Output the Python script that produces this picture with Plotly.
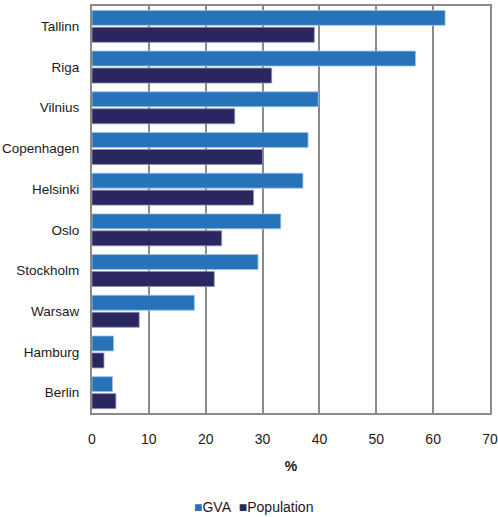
import plotly.graph_objects as go

cities = ["Tallinn", "Riga", "Vilnius", "Copenhagen", "Helsinki", "Oslo",
          "Stockholm", "Warsaw", "Hamburg", "Berlin"]
gva = [62.1, 56.9, 39.8, 38.0, 37.1, 33.2, 29.2, 18.0, 3.8, 3.6]
population = [39.1, 31.6, 25.1, 30.0, 28.4, 22.8, 21.5, 8.3, 2.1, 4.2]
x_ticks = [0, 10, 20, 30, 40, 50, 60, 70]
series_names = ["GVA", "Population"]
series_colors = ["#2673BA", "#2A2660"]

fig = go.Figure()
fig.add_trace(go.Bar(y=cities, x=gva, name=series_names[0], orientation="h",
                     marker=dict(color=series_colors[0], line=dict(color="#9EC3E6", width=0.8))))
fig.add_trace(go.Bar(y=cities, x=population, name=series_names[1], orientation="h",
                     marker=dict(color=series_colors[1], line=dict(color="#8F8DB0", width=0.8))))

legend_text = "&nbsp;&nbsp;".join(
    f"<span style='color:{c}'>■</span>{n}" for n, c in zip(series_names, series_colors)
)

font_family = "Liberation Sans, Arial, sans-serif"
fig.update_layout(
    width=498, height=517,
    margin=dict(l=92, r=8, t=6, b=104),
    paper_bgcolor="white", plot_bgcolor="white",
    barmode="group", bargap=0.165, bargroupgap=0.12,
    font=dict(family=font_family, size=14, color="#1a1a1a"),
    showlegend=False,
    annotations=[dict(text=legend_text, xref="paper", yref="paper", x=0.405, y=-0.231,
                      xanchor="center", yanchor="middle", showarrow=False,
                      font=dict(size=14, color="#1a1a1a"))],
    xaxis=dict(range=[0, 70], tickvals=x_ticks, showgrid=True, gridcolor="#8a8a8a",
               gridwidth=1.5, showline=True, linecolor="#8a8a8a", linewidth=2, mirror=True,
               zeroline=False, ticks="outside", ticklen=12, tickcolor="rgba(0,0,0,0)",
               automargin=False,
               title=dict(text="<b>%</b>", standoff=15, font=dict(size=14))),
    yaxis=dict(autorange="reversed", showline=True, linecolor="#8a8a8a", linewidth=2,
               mirror=True, showgrid=False, ticks="outside", ticklen=8,
               tickcolor="rgba(0,0,0,0)", automargin=False, tickfont=dict(size=13.5)),
)

fig.write_html("out.html")
